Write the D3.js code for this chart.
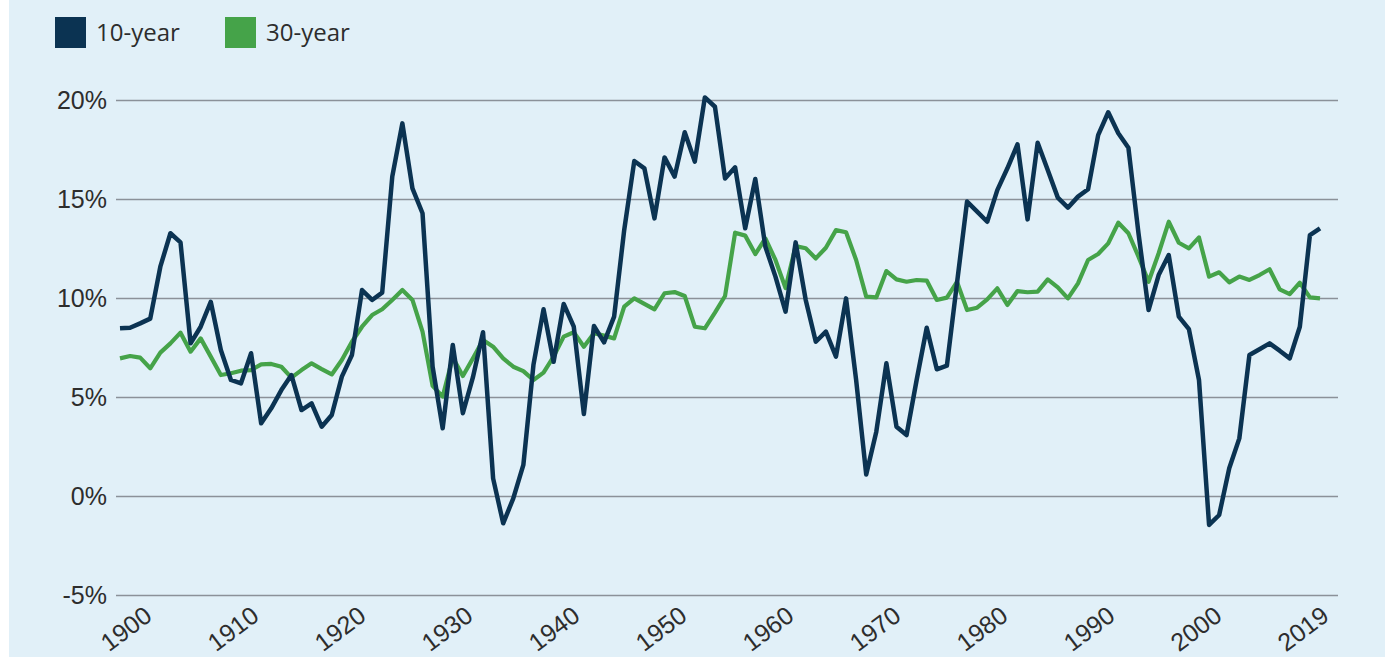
<!DOCTYPE html>
<html>
<head>
<meta charset="utf-8">
<script src="https://cdnjs.cloudflare.com/ajax/libs/d3/7.8.5/d3.min.js"></script>
<style>
  html, body { margin: 0; padding: 0; background: #ffffff; }
  svg { display: block; font-family: "Open Sans", "Noto Sans", sans-serif; }
</style>
</head>
<body>
<div id="vis"></div>
<script>
// chart values (annualised return, %)
var firstYear = 1900;
var ten_year = [
  8.47, 8.5, 8.72, 8.96, 11.58, 13.27, 12.81, 7.71, 8.55, 9.81,
  7.37, 5.86, 5.69, 7.21, 3.67, 4.43, 5.35, 6.11, 4.34, 4.68,
  3.5, 4.09, 6.03, 7.12, 10.4, 9.9, 10.27, 16.13, 18.82, 15.54,
  14.28, 6.53, 3.42, 7.63, 4.18, 6.0, 8.27, 0.89, -1.38, -0.12,
  1.57, 6.62, 9.43, 6.78, 9.7, 8.55, 4.14, 8.59, 7.76, 9.06,
  13.43, 16.92, 16.55, 14.02, 17.1, 16.13, 18.37, 16.89, 20.13, 19.66,
  16.04, 16.6, 13.52, 16.01, 12.59, 11.08, 9.31, 12.81, 9.9, 7.79,
  8.3, 7.04, 9.98, 5.86, 1.09, 3.25, 6.7, 3.5, 3.08, 5.86,
  8.5, 6.4, 6.58, 10.74, 14.87, 14.36, 13.85, 15.45, 16.55, 17.76,
  13.97, 17.84, 16.46, 15.07, 14.56, 15.12, 15.49, 18.23, 19.38, 18.32,
  17.59, 13.27, 9.39, 11.16, 12.17, 9.06, 8.43, 5.86, -1.46, -0.96,
  1.4, 2.91, 7.12, 7.41, 7.71, 7.34, 6.95, 8.55, 13.18, 13.52
];
var thirty_year = [
  6.95, 7.07, 6.99, 6.45, 7.24, 7.71, 8.25, 7.29, 7.96, 7.04,
  6.11, 6.2, 6.33, 6.36, 6.65, 6.67, 6.53, 5.98, 6.36, 6.7,
  6.41, 6.14, 6.87, 7.79, 8.55, 9.14, 9.43, 9.9, 10.4, 9.9,
  8.3, 5.56, 5.02, 7.0, 6.06, 6.95, 7.88, 7.54, 6.95, 6.53,
  6.31, 5.86, 6.23, 7.04, 8.05, 8.27, 7.54, 8.22, 8.1, 7.96,
  9.56, 9.98, 9.7, 9.43, 10.24, 10.3, 10.1, 8.55, 8.47, 9.26,
  10.1, 13.3, 13.15, 12.22, 13.01, 11.92, 10.5, 12.62, 12.51, 12.0,
  12.54, 13.43, 13.32, 11.92, 10.07, 10.03, 11.36, 10.94, 10.82, 10.91,
  10.88, 9.9, 10.02, 10.82, 9.39, 9.51, 9.93, 10.49, 9.65, 10.35,
  10.29, 10.32, 10.94, 10.54, 9.98, 10.74, 11.92, 12.22, 12.76, 13.8,
  13.27, 12.09, 10.82, 12.26, 13.85, 12.79, 12.51, 13.06, 11.08, 11.3,
  10.79, 11.08, 10.91, 11.16, 11.45, 10.44, 10.2, 10.77, 10.03, 9.98
];
var x_labels = ["1900","1910","1920","1930","1940","1950","1960","1970","1980","1990","2000","2019"];
var y_ticks = [-5, 0, 5, 10, 15, 20];
var series_names = ["10-year", "30-year"];
var series_colors = ["#0b3352", "#45a349"];

var width = 1391, height = 664;

var chart = d3.select("#vis").append("svg")
    .attr("width", width)
    .attr("height", height);

// light blue panel
chart.append("rect")
    .attr("x", 9).attr("y", 0)
    .attr("width", 1376).attr("height", 657)
    .attr("fill", "#e1f0f8");

var years = ten_year.map(function(d, i){ return firstYear + i; });
var x_scale = d3.scaleLinear().domain([firstYear, firstYear + ten_year.length - 1]).range([120, 1320]);
var y_scale = d3.scaleLinear().domain([-5, 20]).range([595, 100]);
// labels are spread evenly under the plot, not at their years
var x_label_scale = d3.scalePoint().domain(x_labels).range([153, 1330]);

// gridlines + y labels
var Y = d3.axisLeft(y_scale).tickValues(y_ticks)
    .tickSize(-(1338 - 116))
    .tickPadding(9)
    .tickFormat(function(d){ return d + "%"; });
var gy = chart.append("g").attr("transform", "translate(116,0)").call(Y);
gy.select(".domain").remove();
gy.selectAll(".tick line").attr("stroke", "#8b9199").attr("stroke-width", 1.6);
gy.selectAll(".tick text")
    .attr("fill", "#2d2d2d")
    .style("font-size", "25px");

// x labels, rotated
var X = d3.axisBottom(x_label_scale).tickSize(0).tickPadding(0);
var gx = chart.append("g").attr("transform", "translate(0,619)").call(X);
gx.select(".domain").remove();
gx.selectAll(".tick text")
    .attr("fill", "#2d2d2d")
    .attr("dy", 0)
    .attr("y", 0)
    .style("font-size", "25px")
    .style("text-anchor", "end")
    .attr("transform", "rotate(-37)");

// lines
var line = d3.line()
    .x(function(d, i){ return x_scale(years[i]); })
    .y(function(d){ return y_scale(d); });

chart.append("path").datum(thirty_year)
    .attr("fill", "none")
    .attr("stroke", series_colors[1])
    .attr("stroke-width", 4.2)
    .attr("stroke-linejoin", "round")
    .attr("d", line);

chart.append("path").datum(ten_year)
    .attr("fill", "none")
    .attr("stroke", series_colors[0])
    .attr("stroke-width", 4.5)
    .attr("stroke-linejoin", "round")
    .attr("d", line);

// legend
var legend_x = [55, 225];
var legend = chart.append("g").selectAll("g")
    .data(series_names)
    .enter().append("g")
    .attr("transform", function(d, i){ return "translate(" + legend_x[i] + ",17)"; });
legend.append("rect")
    .attr("width", 31).attr("height", 31)
    .attr("fill", function(d, i){ return series_colors[i]; });
legend.append("text")
    .attr("x", 41).attr("y", 24)
    .attr("fill", "#2d2d2d")
    .style("font-size", "24px")
    .text(function(d){ return d; });
</script>
</body>
</html>
